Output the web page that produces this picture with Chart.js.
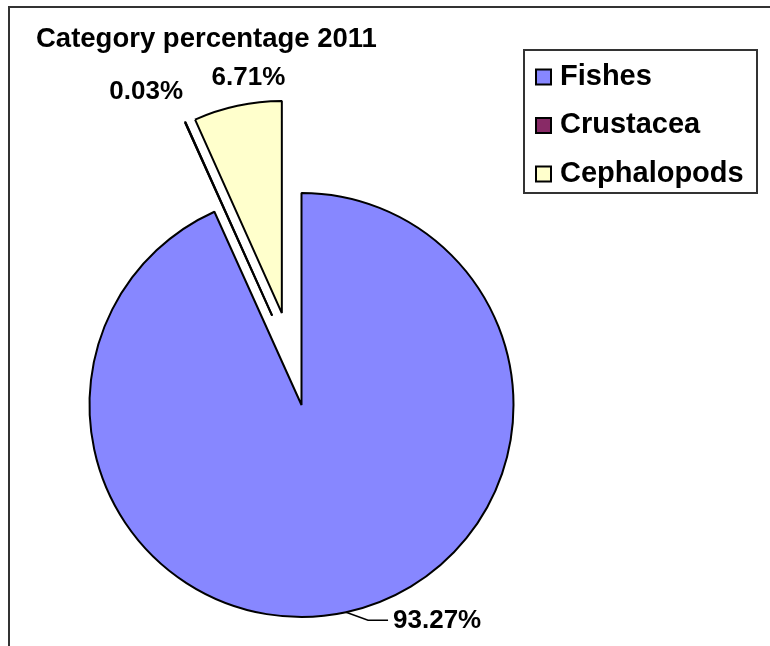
<!DOCTYPE html>
<html>
<head>
<meta charset="utf-8">
<title>Category percentage 2011</title>
<script src="https://cdn.jsdelivr.net/npm/chart.js@4"></script>
<style>
    html, body { margin: 0; padding: 0; background: #ffffff; }
    canvas { display: block; }
</style>
</head>
<body>
<canvas id="categoryChart" width="770" height="646"></canvas>
<script>
// Chart data
const categories = ['Fishes', 'Crustacea', 'Cephalopods'];
const percentages = [93.27, 0.03, 6.71];
const valueLabels = ['93.27%', '0.03%', '6.71%'];
const chartTitle = 'Category percentage 2011';

const FONT = '"Liberation Sans", Arial, sans-serif';

// How far each slice is pulled out of the pie (px), and a small turn of
// the pull direction (degrees, clockwise) away from the slice's middle angle
const explodeDistance = [0, 94, 94];
const explodeTurn = [0, 6, 0];

// Label nudges relative to the slice's outer edge at its middle angle
const labelNudge = [
    { dx: 47, dy: 8, align: 'left', leader: true },
    { dx: -39, dy: -32, align: 'center', leader: false },
    { dx: 11, dy: -29, align: 'center', leader: false }
];

// Frame around the whole chart
const framePlugin = {
    id: 'frame',
    beforeDraw: function(chart) {
        const ctx = chart.ctx;
        ctx.save();
        ctx.fillStyle = '#ffffff';
        ctx.fillRect(0, 0, chart.width, chart.height);
        ctx.strokeStyle = '#333333';
        ctx.lineWidth = 2;
        ctx.beginPath();
        ctx.moveTo(9, chart.height + 5);
        ctx.lineTo(9, 7);
        ctx.lineTo(chart.width + 5, 7);
        ctx.stroke();
        ctx.restore();
    }
};

// Move exploded slices out of the pie
const explodePlugin = {
    id: 'explode',
    beforeDatasetsDraw: function(chart) {
        const area = chart.chartArea;
        const cx = (area.left + area.right) / 2;
        const cy = (area.top + area.bottom) / 2;
        chart.getDatasetMeta(0).data.forEach(function(arc, i) {
            const dir = (arc.startAngle + arc.endAngle) / 2 + (explodeTurn[i] || 0) * Math.PI / 180;
            const dist = explodeDistance[i] || 0;
            arc.x = cx + Math.cos(dir) * dist;
            arc.y = cy + Math.sin(dir) * dist;
        });
    },
    // Very thin slices lose their outline, so stroke them again
    afterDatasetsDraw: function(chart) {
        const ctx = chart.ctx;
        chart.getDatasetMeta(0).data.forEach(function(arc) {
            if (arc.endAngle - arc.startAngle > 0.01) return;
            const r = arc.outerRadius;
            ctx.save();
            ctx.strokeStyle = arc.options.borderColor;
            ctx.lineWidth = arc.options.borderWidth;
            ctx.lineJoin = 'bevel';
            ctx.beginPath();
            ctx.moveTo(arc.x, arc.y);
            ctx.lineTo(arc.x + Math.cos(arc.startAngle) * r, arc.y + Math.sin(arc.startAngle) * r);
            ctx.lineTo(arc.x + Math.cos(arc.endAngle) * r, arc.y + Math.sin(arc.endAngle) * r);
            ctx.closePath();
            ctx.stroke();
            ctx.restore();
        });
    }
};

// Percentage labels outside the slices
const valueLabelPlugin = {
    id: 'valueLabels',
    afterDatasetsDraw: function(chart) {
        const ctx = chart.ctx;
        ctx.save();
        ctx.font = 'bold 26px ' + FONT;
        ctx.fillStyle = '#000000';
        ctx.textBaseline = 'middle';
        chart.getDatasetMeta(0).data.forEach(function(arc, i) {
            const mid = (arc.startAngle + arc.endAngle) / 2;
            const ex = arc.x + Math.cos(mid) * arc.outerRadius;
            const ey = arc.y + Math.sin(mid) * arc.outerRadius;
            const nudge = labelNudge[i];
            const tx = ex + nudge.dx;
            const ty = ey + nudge.dy;
            if (nudge.leader) {
                ctx.strokeStyle = '#000000';
                ctx.lineWidth = 1.5;
                ctx.beginPath();
                ctx.moveTo(ex, ey);
                ctx.lineTo(tx - 25, ty);
                ctx.lineTo(tx - 5, ty);
                ctx.stroke();
            }
            ctx.textAlign = nudge.align;
            ctx.fillText(valueLabels[i], tx, ty + 1);
        });
        ctx.restore();
    }
};

// Title and boxed legend
const titleLegendPlugin = {
    id: 'titleLegend',
    afterDraw: function(chart) {
        const ctx = chart.ctx;
        const dataset = chart.data.datasets[0];
        ctx.save();

        // Title
        ctx.fillStyle = '#000000';
        ctx.font = 'bold 27.5px ' + FONT;
        ctx.textAlign = 'left';
        ctx.textBaseline = 'alphabetic';
        ctx.fillText(chartTitle, 36, 47);

        // Legend box
        ctx.strokeStyle = '#333333';
        ctx.lineWidth = 2;
        ctx.strokeRect(524, 50, 233, 143);

        ctx.font = 'bold 29px ' + FONT;
        chart.data.labels.forEach(function(label, i) {
            const baseline = 84.5 + i * 48.5;
            ctx.fillStyle = dataset.backgroundColor[i];
            ctx.fillRect(536, baseline - 15, 15, 15);
            ctx.strokeStyle = '#000000';
            ctx.lineWidth = 2;
            ctx.strokeRect(536, baseline - 15, 15, 15);
            ctx.fillStyle = '#000000';
            ctx.fillText(label, 560, baseline);
        });
        ctx.restore();
    }
};

// Initialize pie chart
function initializeCategoryChart() {
    const ctx = document.getElementById('categoryChart');
    if (!ctx) return;

    new Chart(ctx, {
        type: 'pie',
        data: {
            labels: categories,
            datasets: [{
                data: percentages,
                backgroundColor: ['#8787ff', '#882a66', '#ffffcc'],
                borderColor: '#000000',
                borderWidth: 2,
                radius: 212
            }]
        },
        options: {
            responsive: false,
            animation: false,
            events: [],
            layout: {
                padding: { left: 0, right: 167, top: 164, bottom: 0 }
            },
            plugins: {
                legend: { display: false },
                tooltip: { enabled: false },
                title: { display: false }
            }
        },
        plugins: [framePlugin, explodePlugin, valueLabelPlugin, titleLegendPlugin]
    });
}

initializeCategoryChart();
</script>
</body>
</html>
